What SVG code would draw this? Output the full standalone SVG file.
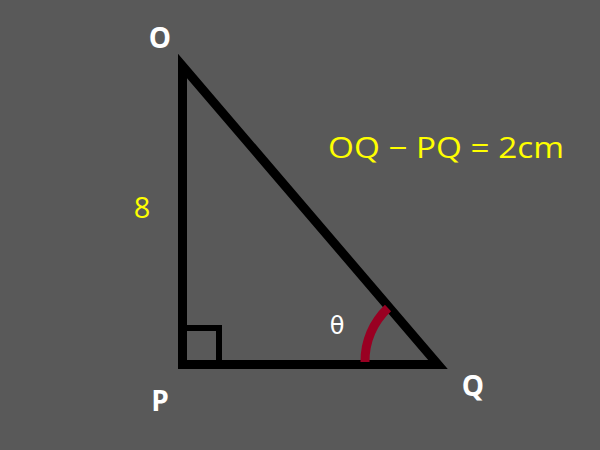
<svg xmlns="http://www.w3.org/2000/svg" width="600" height="450" viewBox="0 0 600 450">
<style>
.lbl{font-family:"Open Sans","Liberation Sans",sans-serif;font-weight:bold;fill:#ffffff;font-size:28px;text-anchor:middle}
.yel{font-family:"Open Sans","Liberation Sans",sans-serif;fill:#ffff00;font-size:29px}
.edge{fill:none;stroke:#000000;stroke-width:9;stroke-linejoin:miter;stroke-miterlimit:20}
</style>
<rect width="600" height="450" fill="#595959"/>
<g id="connectors">
<polygon class="edge" points="182.5,66 182.5,364.5 438,364.5"/>
<polyline fill="none" stroke="#000" stroke-width="6" points="186,328 219,328 219,361"/>
<path d="M365,362 A73,73 0 0 1 388,308" fill="none" stroke="#990022" stroke-width="9"/>
</g>
<g id="O"><text class="lbl" x="160" y="48">O</text></g>
<g id="P"><text class="lbl" x="160" y="411">P</text></g>
<g id="Q"><text class="lbl" x="473" y="396">Q</text></g>
<g id="side"><text class="yel" x="142" y="218" text-anchor="middle">8</text></g>
<g id="eq"><text class="yel" x="328" y="158" textLength="236" lengthAdjust="spacingAndGlyphs">OQ − PQ = 2cm</text></g>
<g id="theta"><text x="337" y="334" text-anchor="middle" font-family="'DejaVu Sans',sans-serif" font-size="24" fill="#ffffff">θ</text></g>
</svg>
